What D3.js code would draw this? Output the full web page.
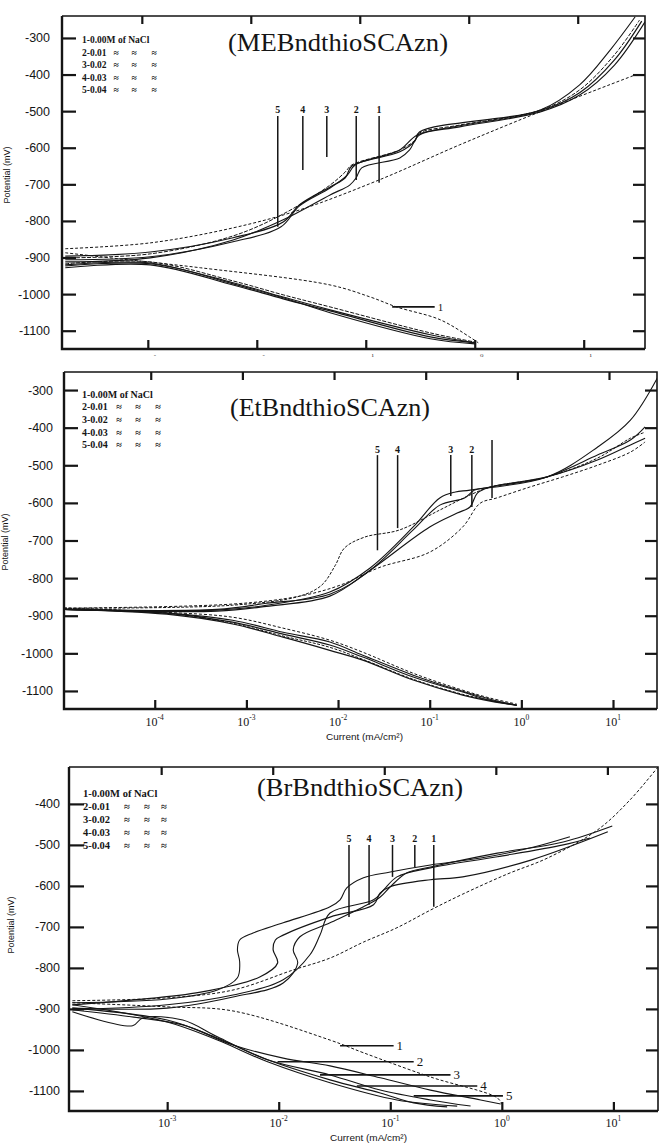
<!DOCTYPE html>
<html>
<head>
<meta charset="utf-8">
<script src="https://cdnjs.cloudflare.com/ajax/libs/d3/7.8.5/d3.min.js"></script>
<style>
  body { margin: 0; background: #fff; }
  svg { display: block; background: #fff; }
</style>
</head>
<body>
<svg width="659" height="1143"></svg>
<script>
'use strict';

// ---- ticks: decades of current (exponents) and potentials (mV)
const mebDecades = [-3, -2, -1, 0, 1];
const etDecades  = [-4, -3, -2, -1, 0, 1];
const brDecades  = [-3, -2, -1, 0, 1];
const mebPotTicks = [-300, -400, -500, -600, -700, -800, -900, -1000, -1100];
const etPotTicks  = [-300, -400, -500, -600, -700, -800, -900, -1000, -1100];
const brPotTicks  = [-400, -500, -600, -700, -800, -900, -1000, -1100];
const mebBottomMarks = ["-", "-", "ı", "o", "ı"];   // what is left of the top plot's labels

const legendRows = ["1-0.00M of NaCl", "2-0.01", "3-0.02", "4-0.03", "5-0.04"];
const markerNames = ["1", "2", "3", "4", "5"];

// ---- curves: [log10 current (mA/cm2), potential (mV)], curves 1..5
const mebAnodic = [
  [[-3.73,-876],[-2.95,-860],[-2.19,-819],[-1.58,-770],[-0.85,-688],[-0.11,-592],[0.60,-505],[1.50,-401]],
  [[-3.73,-912],[-2.95,-901],[-2.19,-852],[-1.73,-797],[-1.30,-729],[-1.12,-702],[-1.06,-682],[-1.01,-655],[-0.66,-628],[-0.57,-606],[-0.48,-565],[-0.11,-543],[0.63,-502],[0.99,-456],[1.31,-374],[1.59,-256]],
  [[-3.73,-901],[-2.95,-890],[-2.19,-841],[-1.73,-781],[-1.30,-702],[-1.16,-666],[-1.10,-647],[-0.66,-606],[-0.52,-579],[-0.48,-560],[-0.11,-538],[0.63,-497],[0.99,-442],[1.31,-346],[1.54,-251]],
  [[-3.73,-896],[-2.95,-885],[-2.19,-846],[-1.73,-803],[-1.58,-756],[-1.30,-707],[-1.16,-682],[-1.10,-650],[-0.66,-611],[-0.52,-581],[-0.48,-557],[0.63,-499],[0.99,-450],[1.31,-360],[1.56,-254]],
  [[-3.73,-906],[-2.95,-898],[-2.19,-857],[-1.75,-816],[-1.58,-759],[-1.30,-710],[-1.14,-674],[-1.07,-647],[-0.66,-606],[-0.50,-565],[-0.11,-540],[0.63,-497],[0.99,-428],[1.27,-333],[1.50,-242]]
];
const mebCathodic = [
  [[-3.73,-887],[-3.41,-898],[-2.49,-928],[-1.30,-975],[-0.93,-1008],[-0.69,-1035],[-0.29,-1070],[-0.02,-1117],[0.06,-1133]],
  [[-3.73,-923],[-2.95,-917],[-2.19,-969],[-1.73,-1008],[-1.30,-1043],[-0.38,-1111],[0.03,-1133]],
  [[-3.73,-917],[-2.95,-912],[-2.19,-964],[-1.73,-1002],[-1.30,-1035],[-0.38,-1106],[0.03,-1131]],
  [[-3.73,-928],[-2.95,-920],[-2.19,-975],[-1.73,-1013],[-1.30,-1046],[-0.38,-1117],[0.03,-1133]],
  [[-3.73,-920],[-2.95,-915],[-2.19,-972],[-1.73,-1010],[-1.30,-1051],[-0.38,-1122],[0.03,-1136]]
];
const mebMarkerLog = [-0.85, -1.06, -1.33, -1.55, -1.78];
const mebMarkerEnd = [-696, -688, -625, -661, -816];
const mebMarkerTop = [-513, -513, -513, -513, -513];
const mebMarkerLabel = -505;
const mebLeaders = [[-0.73, -0.34, -1035]];
const mebLeaderNames = ["1"];

const etAnodic = [
  [[-4.99,-880],[-3.15,-869],[-2.42,-848],[-1.98,-819],[-1.54,-771],[-1.00,-731],[-0.64,-664],[-0.45,-601],[-0.27,-587],[0.09,-558],[0.45,-531],[0.83,-500],[1.19,-465],[1.35,-438]],
  [[-4.99,-883],[-3.32,-883],[-2.78,-867],[-2.09,-843],[-1.65,-779],[-1.18,-672],[-0.89,-606],[-0.62,-587],[-0.51,-566],[-0.34,-558],[0.28,-531],[0.83,-473],[1.19,-433],[1.35,-398]],
  [[-4.99,-883],[-3.32,-885],[-2.78,-872],[-2.09,-837],[-1.65,-773],[-1.18,-664],[-0.89,-587],[-0.72,-571],[-0.56,-566],[0.28,-531],[0.83,-452],[1.19,-380],[1.49,-265]],
  [[-4.99,-883],[-3.32,-888],[-2.78,-875],[-2.09,-848],[-1.65,-779],[-1.00,-664],[-0.70,-627],[-0.56,-611],[-0.48,-574],[-0.34,-558],[0.28,-531],[0.83,-486],[1.19,-446],[1.35,-428]],
  [[-4.99,-880],[-3.15,-872],[-2.42,-848],[-2.18,-819],[-2.03,-766],[-1.93,-720],[-1.71,-691],[-1.33,-672],[-0.89,-619],[-0.56,-579],[-0.34,-558],[0.28,-531],[0.83,-481],[1.19,-428],[1.35,-412]]
];
const etCathodic = [
  [[-4.99,-880],[-3.87,-891],[-3.15,-904],[-2.60,-933],[-2.09,-965],[-1.73,-997],[-1.18,-1053],[-0.64,-1098],[-0.34,-1119],[-0.05,-1135]],
  [[-4.99,-883],[-3.87,-893],[-3.15,-917],[-2.60,-949],[-2.09,-978],[-1.73,-1010],[-1.18,-1063],[-0.64,-1103],[-0.34,-1125],[-0.05,-1138]],
  [[-4.99,-883],[-3.87,-893],[-3.15,-912],[-2.60,-944],[-2.09,-970],[-1.73,-1005],[-1.18,-1058],[-0.64,-1101],[-0.34,-1122],[-0.05,-1138]],
  [[-4.99,-883],[-3.87,-896],[-3.15,-922],[-2.60,-957],[-2.09,-992],[-1.73,-1018],[-1.18,-1071],[-0.64,-1111],[-0.34,-1127],[-0.05,-1138]],
  [[-4.99,-880],[-3.87,-893],[-3.15,-920],[-2.60,-954],[-2.09,-984],[-1.73,-1016],[-1.18,-1069],[-0.64,-1109],[-0.34,-1125],[-0.05,-1138]]
];
const etMarkerLog = [-0.32, -0.54, -0.77, -1.35, -1.57];
const etMarkerEnd = [-587, -611, -582, -667, -726];
const etMarkerTop = [-433, -473, -473, -473, -473];
const etMarkerLabel = -468;
const etMarkerNames = ["", "2", "3", "4", "5"];

const brAnodic = [
  [[-3.85,-880],[-3.00,-873],[-2.41,-854],[-1.87,-805],[-1.54,-776],[-1.24,-737],[-0.94,-702],[-0.64,-659],[-0.35,-620],[0.05,-571],[0.41,-532],[0.86,-463],[1.15,-390],[1.40,-310]],
  [[-3.85,-902],[-3.00,-890],[-2.41,-866],[-1.96,-829],[-1.72,-768],[-1.63,-720],[-1.54,-666],[-1.15,-634],[-1.06,-610],[-0.94,-578],[-0.64,-556],[-0.04,-529],[0.55,-500],[0.79,-483]],
  [[-3.85,-898],[-3.00,-898],[-2.41,-871],[-1.96,-837],[-1.83,-788],[-1.87,-756],[-1.81,-724],[-1.54,-690],[-1.24,-651],[-1.09,-627],[-1.00,-602],[-0.85,-568],[-0.64,-554],[-0.04,-520],[0.55,-493],[0.99,-454]],
  [[-3.85,-890],[-3.30,-878],[-2.70,-859],[-2.17,-822],[-2.01,-788],[-2.05,-756],[-2.03,-732],[-1.96,-720],[-1.54,-676],[-1.15,-646],[-1.09,-617],[-1.00,-602],[-0.64,-585],[-0.35,-578],[0.26,-537],[0.95,-468]],
  [[-3.85,-885],[-3.00,-876],[-2.55,-854],[-2.37,-824],[-2.35,-785],[-2.37,-756],[-2.35,-732],[-2.23,-715],[-1.96,-690],[-1.54,-651],[-1.45,-634],[-1.39,-605],[-1.24,-580],[-1.00,-566],[-0.64,-549],[-0.19,-532],[0.26,-507],[0.61,-480]]
];
const brCathodic = [
  [[-3.85,-885],[-3.00,-895],[-2.41,-905],[-1.54,-976],[-1.24,-1007],[-0.64,-1066],[-0.04,-1117],[0.00,-1132]],
  [[-3.85,-902],[-3.30,-920],[-2.86,-939],[-2.41,-988],[-1.96,-1020],[-1.54,-1039],[-1.09,-1068],[-0.64,-1098],[-0.19,-1122],[-0.01,-1132]],
  [[-3.85,-907],[-3.31,-941],[-3.22,-922],[-2.86,-927],[-2.55,-968],[-2.10,-1024],[-1.54,-1061],[-1.09,-1098],[-0.64,-1122],[-0.28,-1137]],
  [[-3.85,-898],[-3.00,-927],[-2.55,-971],[-2.10,-1024],[-1.54,-1073],[-1.09,-1105],[-0.79,-1129],[-0.49,-1139]],
  [[-3.85,-890],[-3.00,-932],[-2.55,-976],[-2.10,-1029],[-1.54,-1080],[-0.94,-1122],[-0.40,-1137]]
];
const brMarkerLog = [-0.61, -0.78, -0.98, -1.19, -1.37];
const brMarkerEnd = [-651, -554, -578, -646, -676];
const brMarkerTop = [-500, -500, -500, -500, -500];
const brMarkerLabel = -493;
const brLeaders = [[-1.45, -0.97, -990], [-2.01, -0.79, -1029], [-1.63, -0.46, -1061], [-1.30, -0.22, -1088], [-0.79, 0.01, -1112]];
const brLeaderNames = ["1", "2", "3", "4", "5"];

const SANS = "'Liberation Sans', Arial, sans-serif";
const SERIF = "'Liberation Serif', 'Times New Roman', serif";
const INK = "#151515";

class Panel {
  constructor(o) {
    this.svg = d3.select("svg");
    this.o = o;
    this.g = this.svg.append("g").attr("class", "panel " + o.id);
  }

  draw() {
    this.createScales();
    this.addClip();
    this.drawCurves();
    this.drawAxes();
    this.drawFrame();
    this.drawMarkers();
    this.drawLeaders();
    this.drawLegend();
    this.drawTexts();
  }

  createScales() {
    var o = this.o;
    this.x = d3.scaleLog()
      .domain([Math.pow(10, o.logExtent[0]), Math.pow(10, o.logExtent[1])])
      .range([o.left, o.right]);
    this.y = d3.scaleLinear()
      .domain(o.potExtent)
      .range([o.bottom, o.top]);
  }

  px(logI) { return this.x(Math.pow(10, logI)); }

  addClip() {
    var o = this.o;
    this.svg.append("defs").append("clipPath")
      .attr("id", "clip-" + o.id)
      .append("rect")
      .attr("x", o.left).attr("y", o.top)
      .attr("width", o.right - o.left).attr("height", o.bottom - o.top);
  }

  drawCurves() {
    var $this = this, o = this.o;
    var line = d3.line()
      .x(function(d) { return $this.px(d[0]); })
      .y(function(d) { return $this.y(d[1]); })
      .curve(d3.curveCatmullRom.alpha(0.5));

    var curves = this.g.append("g").attr("clip-path", "url(#clip-" + o.id + ")");
    [o.anodic, o.cathodic].forEach(function(branch) {
      branch.forEach(function(pts, i) {
        curves.append("path")
          .datum(pts)
          .attr("fill", "none")
          .attr("stroke", INK)
          .attr("stroke-width", o.widths[i])
          .attr("stroke-dasharray", o.dashes[i])
          .attr("d", line);
      });
    });
  }

  drawAxes() {
    var o = this.o;
    var decadeVals = o.decades.map(function(e) { return Math.pow(10, e); });

    var left = this.g.append("g")
      .attr("transform", "translate(" + o.left + ",0)")
      .call(d3.axisLeft(this.y).tickValues(o.potTicks)
        .tickSizeInner(-o.tickLen).tickSizeOuter(0).tickPadding(o.labelPad)
        .tickFormat(function(d) { return d; }));
    var right = this.g.append("g")
      .attr("transform", "translate(" + o.right + ",0)")
      .call(d3.axisRight(this.y).tickValues(o.potTicks)
        .tickSizeInner(-12).tickSizeOuter(0).tickFormat(""));
    var bottom = this.g.append("g")
      .attr("transform", "translate(" + o.bottomShift + "," + o.bottom + ")")
      .call(d3.axisBottom(this.x).tickValues(decadeVals)
        .tickSizeInner(-9).tickSizeOuter(0).tickFormat(""));
    var top = this.g.append("g")
      .attr("transform", "translate(" + o.topShift + "," + o.top + ")")
      .call(d3.axisTop(this.x).tickValues(decadeVals)
        .tickSizeInner(-8).tickSizeOuter(0).tickFormat(""));

    [left, right, bottom, top].forEach(function(a) {
      a.select(".domain").remove();
      a.selectAll("line").attr("stroke", INK).attr("stroke-width", 2.2);
    });
    left.selectAll("text")
      .attr("font-family", SANS).attr("font-size", 12.5).attr("fill", INK);
  }

  drawFrame() {
    var o = this.o;
    this.g.append("path")
      .attr("d", "M" + o.left + "," + o.top + "H" + o.right + "V" + o.bottom)
      .attr("fill", "none").attr("stroke", INK).attr("stroke-width", 1.6);
    this.g.append("path")
      .attr("d", "M" + o.left + "," + o.top + "V" + o.bottom + "H" + o.right)
      .attr("fill", "none").attr("stroke", INK).attr("stroke-width", 2.4);
  }

  drawMarkers() {
    var $this = this, o = this.o;
    o.markerLog.forEach(function(lg, i) {
      var mx = $this.px(lg);
      $this.g.append("line")
        .attr("x1", mx).attr("x2", mx)
        .attr("y1", $this.y(o.markerTop[i])).attr("y2", $this.y(o.markerEnd[i]))
        .attr("stroke", INK).attr("stroke-width", 1.5);
      $this.g.append("text")
        .attr("x", mx).attr("y", $this.y(o.markerLabel))
        .attr("text-anchor", "middle")
        .attr("font-family", SERIF).attr("font-weight", "bold").attr("font-size", 10)
        .attr("fill", INK)
        .text(o.markerNames[i]);
    });
  }

  drawLeaders() {
    var $this = this, o = this.o;
    (o.leaders || []).forEach(function(l, i) {
      $this.g.append("line")
        .attr("x1", $this.px(l[0])).attr("x2", $this.px(l[1]))
        .attr("y1", $this.y(l[2])).attr("y2", $this.y(l[2]))
        .attr("stroke", INK).attr("stroke-width", 1.6);
      $this.g.append("text")
        .attr("x", $this.px(l[1]) + 3).attr("y", $this.y(l[2]) + 4)
        .attr("font-family", SERIF).attr("font-size", o.leaderFont)
        .attr("fill", INK)
        .text(o.leaderNames[i]);
    });
  }

  drawLegend() {
    var $this = this, o = this.o, L = o.legend;
    legendRows.forEach(function(row, i) {
      var yy = L.y0 + i * L.step;
      $this.g.append("text")
        .attr("x", L.x0).attr("y", yy)
        .attr("font-family", SERIF).attr("font-weight", "bold").attr("font-size", L.font)
        .attr("fill", INK)
        .text(row);
      if (i > 0) {
        L.approxX.forEach(function(ax) {
          $this.g.append("text")
            .attr("x", ax).attr("y", yy)
            .attr("text-anchor", "middle")
            .attr("font-family", SERIF).attr("font-weight", "bold").attr("font-size", L.font)
            .attr("fill", INK)
            .text("≈");
        });
      }
    });
  }

  drawTexts() {
    var $this = this, o = this.o;

    // title
    this.g.append("text")
      .attr("x", o.title.x).attr("y", o.title.y)
      .attr("font-family", SERIF).attr("font-size", 26)
      .attr("textLength", o.title.w).attr("lengthAdjust", "spacingAndGlyphs")
      .attr("fill", INK)
      .text(o.title.text);

    // y axis name
    this.g.append("text")
      .attr("transform", "translate(" + o.ylab[0] + "," + o.ylab[1] + ") rotate(-90)")
      .attr("text-anchor", "middle")
      .attr("font-family", SANS).attr("font-size", 9).attr("fill", INK)
      .text("Potential (mV)");

    if (o.bottomMarks) {
      o.decades.forEach(function(e, i) {
        $this.g.append("text")
          .attr("x", $this.px(e) + o.bottomShift + 7).attr("y", o.bottom + 8)
          .attr("text-anchor", "middle")
          .attr("font-family", SERIF).attr("font-size", 7).attr("fill", "#444")
          .text(o.bottomMarks[i]);
      });
      return;
    }

    var lab = this.g.selectAll(".xlab-" + o.id)
      .data(o.decades)
      .enter().append("text")
      .attr("class", "xlab-" + o.id)
      .attr("x", function(e) { return $this.px(e) + o.bottomShift; })
      .attr("y", o.xLabelY)
      .attr("text-anchor", "middle")
      .attr("font-family", SERIF).attr("font-size", 12).attr("fill", INK);
    lab.append("tspan").text("10");
    lab.append("tspan").attr("dy", -6).attr("font-size", 7.5).text(function(e) { return e; });

    this.g.append("text")
      .attr("x", o.current[0]).attr("y", o.current[1])
      .attr("font-family", SANS).attr("font-size", 9)
      .attr("textLength", 77).attr("lengthAdjust", "spacingAndGlyphs")
      .attr("fill", INK)
      .text("Current (mA/cm²)");
  }
}

///////////////////////////////////////////////
var meb = new Panel({
  id: "meb", left: 62, right: 645, top: 16, bottom: 349,
  logExtent: [-3.76, 1.59], potExtent: [-1150, -240],
  decades: mebDecades, potTicks: mebPotTicks,
  tickLen: 14, labelPad: 12, topShift: -3, bottomShift: 3,
  anodic: mebAnodic, cathodic: mebCathodic,
  dashes: ["3,2", null, "4,1.5", null, null], widths: [1, 1.1, 1, 1.2, 1.1],
  markerLog: mebMarkerLog, markerEnd: mebMarkerEnd, markerTop: mebMarkerTop,
  markerLabel: mebMarkerLabel, markerNames: markerNames,
  leaders: mebLeaders, leaderNames: mebLeaderNames, leaderFont: 11,
  legend: { x0: 82, y0: 43, step: 12.5, font: 9.5, approxX: [116, 134, 154] },
  title: { text: "(MEBndthioSCAzn)", x: 228, y: 51, w: 220 },
  ylab: [10, 175], bottomMarks: mebBottomMarks
});
meb.draw();

var et = new Panel({
  id: "et", left: 64, right: 657, top: 372, bottom: 709,
  logExtent: [-4.99, 1.48], potExtent: [-1148, -252],
  decades: etDecades, potTicks: etPotTicks,
  tickLen: 14, labelPad: 11, topShift: -4, bottomShift: 0,
  anodic: etAnodic, cathodic: etCathodic,
  dashes: ["3,2", null, null, null, "3,1.5"], widths: [1, 1.1, 1.1, 1.2, 1],
  markerLog: etMarkerLog, markerEnd: etMarkerEnd, markerTop: etMarkerTop,
  markerLabel: etMarkerLabel, markerNames: etMarkerNames,
  legend: { x0: 82, y0: 397.5, step: 12.7, font: 10, approxX: [119, 138, 158] },
  title: { text: "(EtBndthioSCAzn)", x: 230, y: 416, w: 200 },
  ylab: [8, 542], xLabelY: 726, current: [326, 740]
});
et.draw();

var br = new Panel({
  id: "br", left: 69, right: 658, top: 767, bottom: 1111,
  logExtent: [-3.88, 1.40], potExtent: [-1149, -310],
  decades: brDecades, potTicks: brPotTicks,
  tickLen: 15, labelPad: 9, topShift: -6, bottomShift: 0,
  anodic: brAnodic, cathodic: brCathodic,
  dashes: ["3,2", null, null, null, null], widths: [1, 1.1, 1.1, 1.2, 1.1],
  markerLog: brMarkerLog, markerEnd: brMarkerEnd, markerTop: brMarkerTop,
  markerLabel: brMarkerLabel, markerNames: markerNames,
  leaders: brLeaders, leaderNames: brLeaderNames, leaderFont: 13,
  legend: { x0: 83, y0: 796.5, step: 13, font: 10.5, approxX: [127, 147, 164] },
  title: { text: "(BrBndthioSCAzn)", x: 257, y: 796, w: 206 },
  ylab: [14, 925], xLabelY: 1127, current: [330, 1141]
});
br.draw();
</script>
</body>
</html>
